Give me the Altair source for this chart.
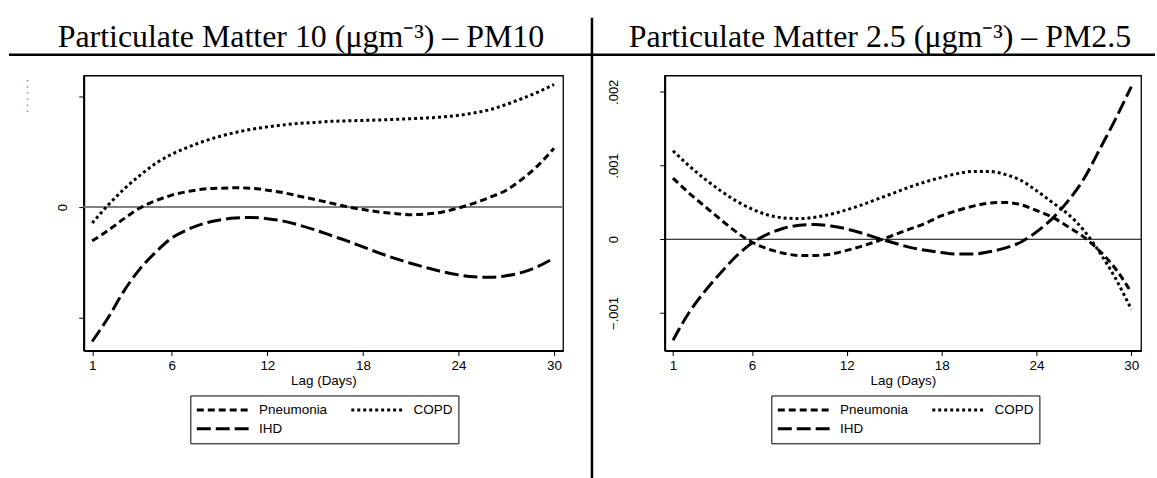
import altair as alt
import pandas as pd

LAG = list(range(1, 31))
OUTCOMES = ["Pneumonia", "COPD", "IHD"]
DASHES = [[7, 4], [3, 3], [14, 5]]
X_TICKS = [1, 6, 12, 18, 24, 30]

# PM10 panel, values in units of 1e-4
PM10_PNEUMONIA = [-1.52, -1.05, -0.52, -0.04, 0.29, 0.54, 0.70, 0.81, 0.85, 0.87,
                  0.85, 0.76, 0.65, 0.49, 0.34, 0.18, 0.02, -0.11, -0.22, -0.29,
                  -0.34, -0.31, -0.22, -0.04, 0.18, 0.45, 0.76, 1.26, 1.88, 2.65]
PM10_COPD = [-0.72, 0.09, 0.81, 1.43, 1.97, 2.38, 2.69, 2.96, 3.18, 3.36,
             3.50, 3.61, 3.70, 3.77, 3.81, 3.86, 3.88, 3.90, 3.92, 3.95,
             3.98, 4.01, 4.06, 4.13, 4.24, 4.39, 4.62, 4.89, 5.18, 5.52]
PM10_IHD = [-6.05, -4.98, -3.77, -2.78, -2.02, -1.39, -1.01, -0.74, -0.58, -0.49,
            -0.47, -0.52, -0.63, -0.81, -1.03, -1.28, -1.52, -1.79, -2.06, -2.31,
            -2.53, -2.73, -2.91, -3.05, -3.14, -3.16, -3.09, -2.94, -2.67, -2.29]

# PM2.5 panel, values in units of 1e-3
PM25_PNEUMONIA = [0.83, 0.63, 0.45, 0.27, 0.10, -0.04, -0.13, -0.19, -0.22, -0.22,
                  -0.20, -0.15, -0.09, -0.02, 0.06, 0.14, 0.22, 0.32, 0.39, 0.45,
                  0.49, 0.50, 0.47, 0.39, 0.30, 0.17, 0.03, -0.16, -0.40, -0.72]
PM25_COPD = [1.20, 1.00, 0.82, 0.66, 0.52, 0.41, 0.33, 0.29, 0.28, 0.30,
             0.34, 0.40, 0.47, 0.55, 0.63, 0.71, 0.78, 0.84, 0.89, 0.92,
             0.92, 0.88, 0.80, 0.66, 0.50, 0.34, 0.12, -0.18, -0.53, -0.95]
PM25_IHD = [-1.37, -1.00, -0.71, -0.46, -0.23, -0.05, 0.07, 0.15, 0.19, 0.20,
            0.18, 0.14, 0.08, 0.01, -0.05, -0.11, -0.15, -0.18, -0.20, -0.20,
            -0.17, -0.12, -0.04, 0.10, 0.28, 0.52, 0.82, 1.22, 1.63, 2.07]

TITLE_PM10 = "Particulate Matter 10 (\u03bcgm\u207b\u00b3) \u2013 PM10"
TITLE_PM25 = "Particulate Matter 2.5 (\u03bcgm\u207b\u00b3) \u2013 PM2.5"

SANS = "Liberation Sans"
SERIF = "Liberation Serif"


def make_df(series, unit):
    rows = []
    for name, vals in zip(OUTCOMES, series):
        for l, v in zip(LAG, vals):
            rows.append({"lag": l, "value": v * unit, "outcome": name})
    return pd.DataFrame(rows)


ONE = pd.DataFrame({"a": [0]})


def panel(df, width, xdom, ydom, yticks, label_expr, label_pad,
          zero_color, zero_width, title, title_x, extra_layers):
    x = alt.X("lag:Q", scale=alt.Scale(domain=xdom, nice=False, zero=False),
              axis=alt.Axis(values=X_TICKS, title="Lag (Days)", grid=False,
                            tickSize=5, tickColor="black", domainColor="black",
                            domainWidth=2, labelFont=SANS, labelFontSize=13.5,
                            labelColor="black", labelPadding=3,
                            titleFont=SANS, titleFontSize=13.5,
                            titleFontWeight="normal", titleColor="black",
                            titlePadding=1))
    y = alt.Y("value:Q", scale=alt.Scale(domain=ydom, nice=False, zero=False),
              axis=alt.Axis(values=yticks, labelExpr=label_expr, title=None,
                            grid=False, tickSize=5, tickColor="black",
                            domainColor="black", domainWidth=2,
                            labelAngle=270, labelAlign="center",
                            labelBaseline="bottom", labelPadding=label_pad,
                            labelFont=SANS, labelFontSize=13,
                            labelColor="black"))
    zero = alt.Chart(ONE).mark_rule(color=zero_color, strokeWidth=zero_width).encode(
        y=alt.datum(0))
    lines = alt.Chart(df).mark_line(color="black", strokeWidth=3,
                                    interpolate="monotone").encode(
        x=x, y=y,
        strokeDash=alt.StrokeDash(
            "outcome:N",
            scale=alt.Scale(domain=OUTCOMES, range=DASHES),
            legend=alt.Legend(title=None, orient="none", legendX=107, legendY=321,
                              direction="horizontal", columns=2,
                              symbolType="stroke", symbolSize=2704,
                              symbolStrokeWidth=3, symbolStrokeColor="black",
                              clipHeight=19, labelFont=SANS, labelFontSize=13.5,
                              labelColor="black", labelOffset=9,
                              columnPadding=22, rowPadding=0, padding=5,
                              strokeColor="black", fillColor="white")))
    ttl = alt.Chart(pd.DataFrame({"t": [title]})).mark_text(
        font=SERIF, fontSize=32, align="center", baseline="alphabetic",
        color="black").encode(x=alt.value(title_x), y=alt.value(-29), text="t:N")
    layers = [zero, lines, ttl] + extra_layers
    return alt.layer(*layers).properties(width=width, height=276)


left_extra = [
    # garbled top tick label
    alt.Chart(pd.DataFrame({"t": [". . . . . ."]})).mark_text(
        font=SANS, fontSize=11, angle=270, align="center", baseline="middle",
        color="#444444").encode(x=alt.value(-59), y=alt.datum(0.0005), text="t:N"),
    # rule under the titles
    alt.Chart(ONE).mark_rule(color="black", strokeWidth=2.5).encode(
        x=alt.value(-75), x2=alt.value(1075), y=alt.value(-21)),
    # vertical divider
    alt.Chart(ONE).mark_rule(color="black", strokeWidth=2.5).encode(
        x=alt.value(510), y=alt.value(-58), y2=alt.value(404)),
    # white anchor at the page origin
    alt.Chart(ONE).mark_rule(color="white", strokeWidth=1).encode(
        x=alt.value(-82), x2=alt.value(-81), y=alt.value(-73.5)),
]

left = panel(make_df([PM10_PNEUMONIA, PM10_COPD, PM10_IHD], 1e-4), 481,
             [0.468, 30.568], [-0.000646, 0.000592], [-0.0005, 0, 0.0005],
             "datum.value == 0 ? '0' : ''", 9, "#808080", 2,
             TITLE_PM10, 218, left_extra)

right = panel(make_df([PM25_PNEUMONIA, PM25_COPD, PM25_IHD], 1e-3), 478,
              [0.477, 30.617], [-0.00151, 0.00222], [-0.001, 0, 0.001, 0.002],
              "datum.value == 0 ? '0' : replace(format(datum.value, '.3f'), '0.', '.')",
              39, "black", 1, TITLE_PM25, 216, [])

chart = alt.hconcat(left, right, spacing=102, bounds="flush").resolve_legend(
    strokeDash="independent").configure_view(
    stroke="black", strokeWidth=1.3).properties(
    padding={"left": 0, "top": 0, "right": 0, "bottom": 0},
    background="white")

chart.save("out.html", embed_options={"renderer": "svg", "actions": False})
